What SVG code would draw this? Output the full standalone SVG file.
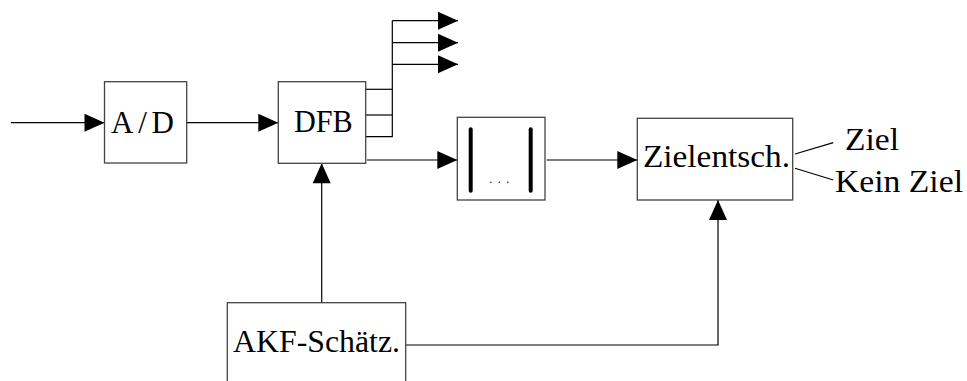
<svg xmlns="http://www.w3.org/2000/svg" width="967" height="381" viewBox="0 0 967 381">
<style>
.box{fill:#fff;stroke:#444;stroke-width:1.3}
.ln{fill:none;stroke:#000;stroke-width:1.2}
.lbl{font-family:"Liberation Serif","DejaVu Serif",serif;font-size:31px;fill:#000}
.bar{stroke:#000;stroke-width:4;stroke-linecap:round}
</style>
<defs>
<marker id="ah" markerUnits="userSpaceOnUse" markerWidth="20" markerHeight="18" refX="20" refY="9" orient="auto" overflow="visible">
<path d="M0,0 L20,9 L0,18 z" fill="#000"/>
</marker>
</defs>
<rect width="967" height="381" fill="#fff"/>
<g id="connectors">
<line class="ln" x1="11" y1="122.7" x2="104.5" y2="122.7" marker-end="url(#ah)"/>
<line class="ln" x1="186.7" y1="122.7" x2="278.3" y2="122.7" marker-end="url(#ah)"/>
<polyline class="ln" points="366,89.3 392.3,89.3"/>
<polyline class="ln" points="366,115 392.3,115"/>
<polyline class="ln" points="366,136.7 392.3,136.7 392.3,20.7"/>
<line class="ln" x1="392.3" y1="20.7" x2="458" y2="20.7" marker-end="url(#ah)"/>
<line class="ln" x1="392.3" y1="42.7" x2="458" y2="42.7" marker-end="url(#ah)"/>
<line class="ln" x1="392.3" y1="64.3" x2="458" y2="64.3" marker-end="url(#ah)"/>
<line class="ln" x1="367" y1="160" x2="457.3" y2="160" marker-end="url(#ah)"/>
<line class="ln" x1="546.7" y1="160" x2="637.3" y2="160" marker-end="url(#ah)"/>
<line class="ln" x1="321.7" y1="302.7" x2="321.7" y2="163.3" marker-end="url(#ah)"/>
<polyline class="ln" points="405.7,345 718,345 718,200" marker-end="url(#ah)"/>
<line class="ln" x1="795" y1="154" x2="833.3" y2="142.7"/>
<line class="ln" x1="795" y1="168.3" x2="833.3" y2="180"/>
</g>
<g id="ad">
<rect class="box" x="104.5" y="81.7" width="82.2" height="81.3"/>
<text class="lbl" x="111" y="132.7" textLength="63" lengthAdjust="spacing">A/D</text>
</g>
<g id="dfb">
<rect class="box" x="278.3" y="81.7" width="87.4" height="81.6"/>
<text class="lbl" x="294" y="131.7" textLength="58.7" lengthAdjust="spacingAndGlyphs">DFB</text>
</g>
<g id="quant">
<rect class="box" x="457.3" y="117.3" width="87.7" height="82.7"/>
<line class="bar" x1="470.7" y1="129.3" x2="470.7" y2="190.7"/>
<line class="bar" x1="530.7" y1="129.3" x2="530.7" y2="190.7"/>
<text x="489.3" y="183" style="font-family:'Liberation Serif',serif;font-size:12px;letter-spacing:5.5px" fill="#000">...</text>
</g>
<g id="zielentsch">
<rect class="box" x="637.3" y="118.3" width="155.4" height="81.7"/>
<text class="lbl" x="643" y="166.7" textLength="147" lengthAdjust="spacingAndGlyphs">Zielentsch.</text>
</g>
<g id="akf">
<rect class="box" x="227.3" y="302.7" width="178.4" height="90"/>
<text class="lbl" x="233" y="351.7" textLength="167" lengthAdjust="spacingAndGlyphs">AKF-Schätz.</text>
</g>
<g id="outputs">
<text class="lbl" x="845" y="150" textLength="54" lengthAdjust="spacingAndGlyphs">Ziel</text>
<text class="lbl" x="835" y="191.7" textLength="128" lengthAdjust="spacingAndGlyphs">Kein Ziel</text>
</g>
</svg>
